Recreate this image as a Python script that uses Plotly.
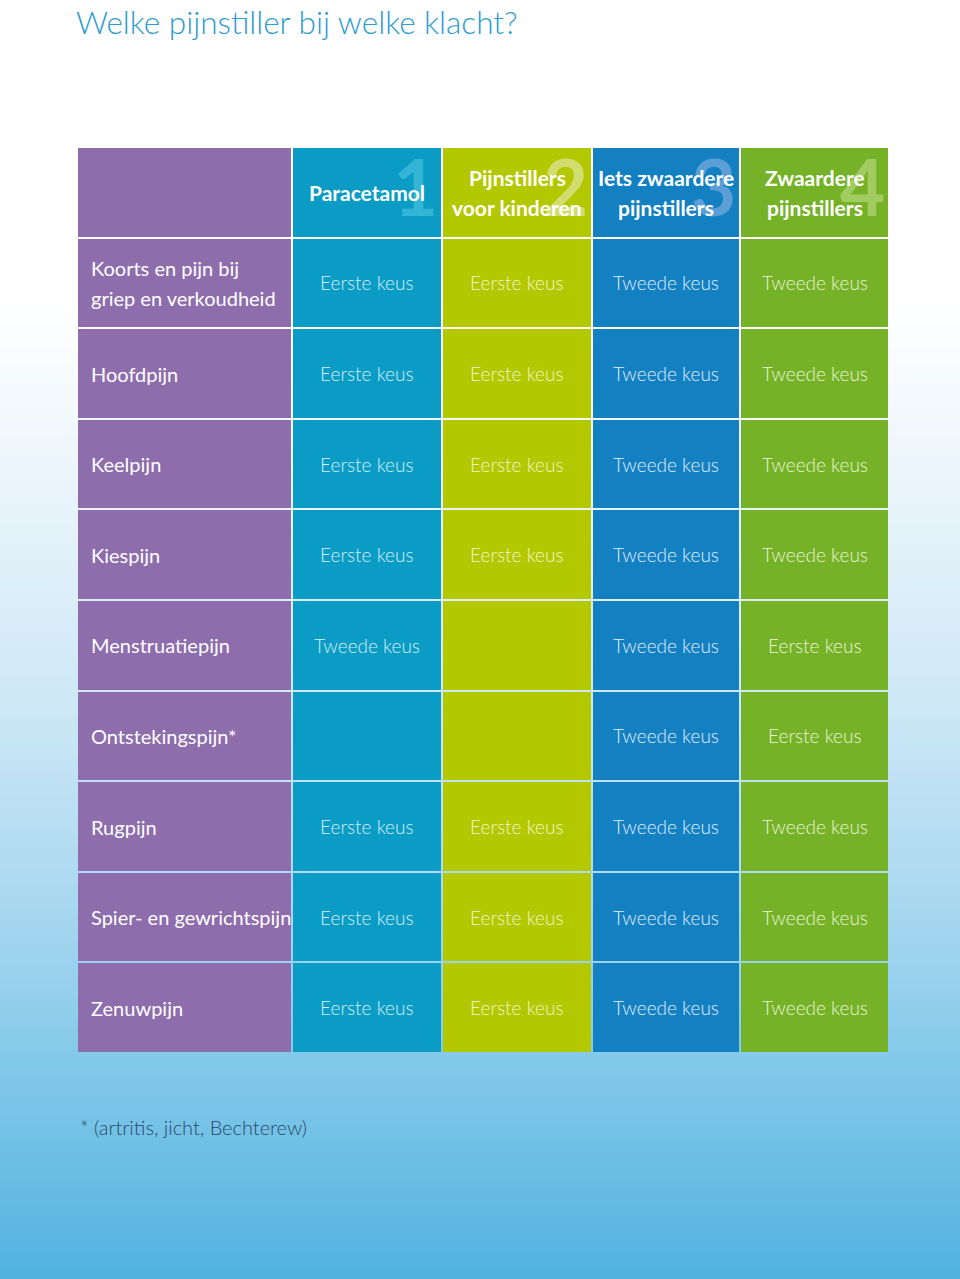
import plotly.graph_objects as go

# ---------------- data ----------------
klachten = [
    "Koorts en pijn bij<br>griep en verkoudheid",
    "Hoofdpijn",
    "Keelpijn",
    "Kiespijn",
    "Menstruatiepijn",
    "Ontstekingspijn*",
    "Rugpijn",
    "Spier- en gewrichtspijn",
    "Zenuwpijn",
]
kolommen = [
    "Paracetamol",
    "Pijnstillers<br>voor kinderen",
    "Iets zwaardere<br>pijnstillers",
    "Zwaardere<br>pijnstillers",
]
nummers = ["1", "2", "3", "4"]

paracetamol = ["Eerste keus", "Eerste keus", "Eerste keus", "Eerste keus", "Tweede keus",
               "", "Eerste keus", "Eerste keus", "Eerste keus"]
kinderen = ["Eerste keus", "Eerste keus", "Eerste keus", "Eerste keus", "",
            "", "Eerste keus", "Eerste keus", "Eerste keus"]
iets_zwaarder = ["Tweede keus"] * 9
zwaarder = ["Tweede keus", "Tweede keus", "Tweede keus", "Tweede keus", "Eerste keus",
            "Eerste keus", "Tweede keus", "Tweede keus", "Tweede keus"]
keuzes = [paracetamol, kinderen, iets_zwaarder, zwaarder]

titel = "Welke pijnstiller bij welke klacht?"
voetnoot = "* (artritis, jicht, Bechterew)"

# ---------------- style ----------------
W, H = 960, 1279
ML, MR, MT, MB = 77, 71, 147, 226
col_widths = [215, 150, 150, 148, 149]
col_colors = ["#8d6dac", "#0a9cc4", "#b4c800", "#1380c2", "#76b227"]
num_colors = ["rgba(255,255,255,0)", "#35b5d6", "#d2dd70", "#5c9fd6", "#a2cb62"]
cell_text_colors = ["#ffffff", "#d4f0f8", "#f0f5c8", "#e0eefa", "#e8f4d8"]

edges = [0]
for w in col_widths:
    edges.append(edges[-1] + w)
centers = [(edges[i] + edges[i + 1]) / 2 for i in range(len(col_widths))]

nrows = len(klachten) + 1
yedges = list(range(nrows + 1))
z = [[c for c in range(len(col_widths))] for _ in range(nrows)]
n = len(col_colors)

fig = go.Figure()
fig.add_trace(go.Heatmap(
    x=edges, y=yedges, z=z, zmin=0, zmax=n - 1,
    colorscale=[[i / (n - 1), c] for i, c in enumerate(col_colors)],
    showscale=False, xgap=2, ygap=2, hoverinfo="skip",
))

# background gradient (white -> blue), drawn as thin strips in paper coords
stops = [(0, (255, 255, 255)), (300, (255, 255, 255)), (500, (232, 244, 251)),
         (700, (206, 232, 246)), (900, (170, 216, 240)), (1100, (122, 197, 232)),
         (1279, (82, 178, 223))]

def col_at(py):
    for (a, ca), (b, cb) in zip(stops[:-1], stops[1:]):
        if a <= py <= b:
            t = (py - a) / (b - a) if b > a else 0
            return tuple(round(ca[k] + (cb[k] - ca[k]) * t) for k in range(3))
    return stops[-1][1]

ph = H - MT - MB
pw = W - ML - MR
def py2paper(py):
    return (H - MB - py) / ph

shapes = []
step = 5
for py in range(0, H, step):
    c = col_at(py + step / 2)
    shapes.append(dict(type="rect", xref="paper", yref="paper", layer="below",
                       x0=-ML / pw - 0.01, x1=1 + MR / pw + 0.01,
                       y0=py2paper(py + step + 1), y1=py2paper(py),
                       fillcolor="rgb(%d,%d,%d)" % c, line=dict(width=0)))

row_h = 1.0
line_off = 0.165  # half the distance between two text lines, in row units

def lines_at(text, yc):
    parts = text.split("<br>")
    if len(parts) == 1:
        return [(parts[0], yc)]
    return [(parts[0], yc - line_off), (parts[1], yc + line_off)]

ann = []
# header numbers
for j, num in enumerate(nummers):
    ann.append(dict(x=edges[j + 2] - 2, y=0.43, xref="x", yref="y", text=num,
                    showarrow=False, xanchor="right", yanchor="middle",
                    font=dict(family="Lato", size=78, color=num_colors[j + 1], weight="bold")))
# header labels
for j, lab in enumerate(kolommen):
    for t, yy in lines_at(lab, 0.5):
        ann.append(dict(x=centers[j + 1], y=yy, xref="x", yref="y", text=t,
                        showarrow=False, xanchor="center", yanchor="middle",
                        font=dict(family="Lato", size=21, color="white", weight="bold")))
# row labels
for i, k in enumerate(klachten):
    for t, yy in lines_at(k, i + 1.5):
        ann.append(dict(x=edges[0] + 12, y=yy, xref="x", yref="y", text=t,
                        showarrow=False, xanchor="left", yanchor="middle", align="left",
                        font=dict(family="Lato", size=20, color="white")))
# cells
for j, col in enumerate(keuzes):
    for i, v in enumerate(col):
        if v:
            ann.append(dict(x=centers[j + 1], y=i + 1.5, xref="x", yref="y", text=v,
                            showarrow=False, xanchor="center", yanchor="middle",
                            font=dict(family="Lato", size=19, color=cell_text_colors[j + 1],
                                      weight=300)))
# title and footnote
ann.append(dict(x=(74 - ML) / pw, y=py2paper(22), xref="paper", yref="paper", text=titel,
                showarrow=False, xanchor="left", yanchor="middle",
                font=dict(family="Lato", size=31.5, color="#2b9bd1", weight=300)))
ann.append(dict(x=(78 - ML) / pw, y=py2paper(1127), xref="paper", yref="paper", text=voetnoot,
                showarrow=False, xanchor="left", yanchor="middle",
                font=dict(family="Lato", size=20, color="#2c4a6a", weight=300)))

fig.update_layout(
    width=W, height=H, margin=dict(l=ML, r=MR, t=MT, b=MB, pad=0),
    paper_bgcolor="white", plot_bgcolor="rgba(0,0,0,0)",
    xaxis=dict(range=[edges[0], edges[-1]], visible=False, fixedrange=True),
    yaxis=dict(range=[yedges[-1], yedges[0]], visible=False, fixedrange=True),
    shapes=shapes, annotations=ann, showlegend=False,
)
fig.write_html("out.html", config={"displayModeBar": False},
               post_script="document.body.style.margin='0';document.body.style.overflow='hidden';")
